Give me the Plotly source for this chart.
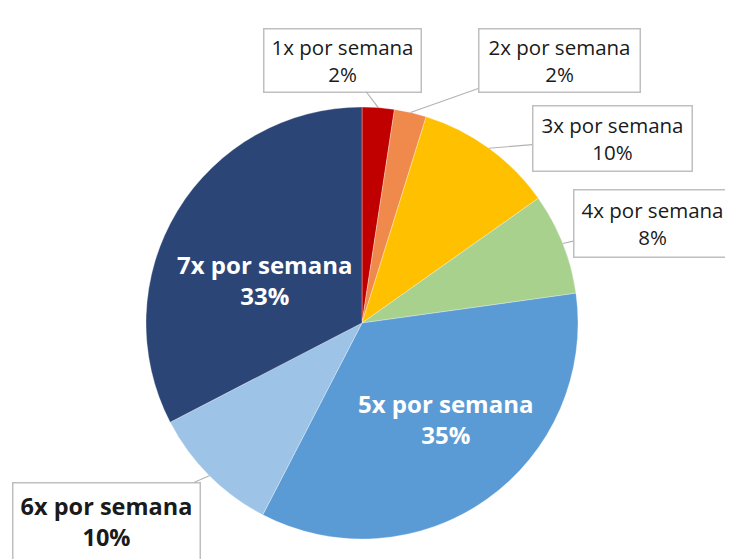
import math
import plotly.graph_objects as go

# ---- data ----
categories = ["1x por semana", "2x por semana", "3x por semana", "4x por semana",
              "5x por semana", "6x por semana", "7x por semana"]
values = [2.4, 2.4, 10.4, 7.6, 34.8, 9.8, 32.6]
colors = ["#c00000", "#ef8a4c", "#ffc000", "#a9d18e", "#5b9bd5", "#9dc3e6", "#2b4577"]

# ---- layout constants (screen pixels) ----
W, H = 733, 559
OFF = 8  # page body margin
CX, CY, R = 362, 323, 216
label_pos = [(342, 60), (559, 60), (612, 138), (652, 224), (446, 419), (106, 521), (264, 280)]
label_inside = [False, False, False, False, True, False, True]
label_bold = [False, False, False, False, True, True, True]
box_size = [(158, 64), (162, 64), (160, 66), (158, 68), None, (188, 78), None]
FONT = "Open Sans, Lato, sans-serif"


def fx(px):
    return (px - OFF) / W


def fy(py):
    return 1 - (py - OFF) / H


fig = go.Figure(go.Pie(
    labels=categories, values=values, sort=False, direction="clockwise", rotation=0,
    marker=dict(colors=colors, line=dict(color="rgba(255,255,255,0.6)", width=0.5)),
    textinfo="none", hoverinfo="label+percent", showlegend=False,
    domain=dict(x=[fx(CX - R), fx(CX + R)], y=[fy(CY + R), fy(CY - R)]),
))

total = sum(values)
cum = 0.0
annotations = []
for i, (cat, v) in enumerate(zip(categories, values)):
    mid = (cum + v / 2) / total * 2 * math.pi
    cum += v
    pct = round(v / total * 100)
    px = CX + R * math.sin(mid)
    py = CY - R * math.cos(mid)
    bx, by = label_pos[i]
    name = f"<b>{cat}</b>" if label_bold[i] else cat
    pstr = f"<b>{pct}%</b>" if label_bold[i] else f"{pct}%"
    text = f"{name}<br>{pstr}"
    if label_inside[i]:
        annotations.append(dict(
            x=fx(bx), y=fy(by), xref="paper", yref="paper", text=text, showarrow=False,
            xanchor="center", yanchor="middle",
            font=dict(family=FONT, size=24, color="white"), align="center"))
    else:
        w, h = box_size[i]
        annotations.append(dict(
            x=fx(px), y=fy(py), xref="paper", yref="paper",
            ax=bx - px, ay=by - py, axref="pixel", ayref="pixel",
            text=text, showarrow=True, arrowhead=0, arrowwidth=1.2, arrowcolor="#b3b3b3",
            standoff=0, startstandoff=0,
            font=dict(family=FONT, size=23.5 if label_bold[i] else 20.5, color="#1a1a1a"),
            align="center", bgcolor="white", bordercolor="#bfbfbf", borderwidth=1.5,
            width=w - 4, height=h - 4, valign="middle"))

fig.update_layout(
    width=W, height=H, margin=dict(l=0, r=0, t=0, b=0),
    paper_bgcolor="white", plot_bgcolor="white",
    annotations=annotations,
)
fig.write_html("out.html")
